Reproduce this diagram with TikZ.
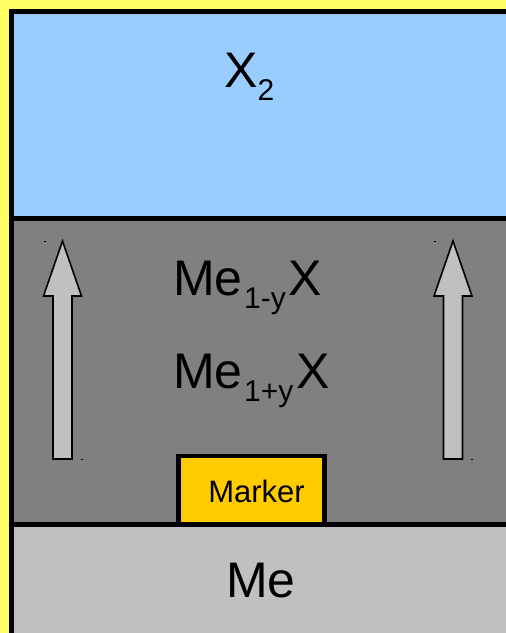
\documentclass[tikz,border=0pt]{standalone}
\usepackage{fontspec}
\setmainfont{Liberation Sans}
\usetikzlibrary{positioning}
\definecolor{frameyellow}{HTML}{FFFF66}
\definecolor{layerblue}{HTML}{99CCFF}
\definecolor{layerdark}{HTML}{808080}
\definecolor{layerlight}{HTML}{C0C0C0}
\definecolor{markergold}{HTML}{FFCC00}
\newcommand{\lowsub}[1]{\raisebox{-13pt}{\fontsize{30}{36}\selectfont #1}}

\begin{document}
\begin{tikzpicture}[x=1pt,y=-1pt,
big/.style={font=\fontsize{50}{60}\selectfont,inner sep=0pt,anchor=base west},
layer/.style={fill=#1},
sep/.style={draw=black,line width=5pt},
flow/.style={fill=layerlight,draw=black,line width=1.6pt,line join=miter},
markerbox/.style={draw=black,fill=markergold,line width=4.5pt,minimum width=146pt,minimum height=68pt,inner sep=0pt}]
\useasboundingbox (0,0) rectangle (506,633);
\clip (0,0) rectangle (506,633);
\fill[frameyellow] (0,0) rectangle (506,633);
% layers
\fill[layer=layerblue] (11.5,11.5) rectangle (508,218);
\fill[layer=layerdark] (11.5,218) rectangle (508,524);
\fill[layer=layerlight] (11.5,524) rectangle (508,660);
% growth arrows
\foreach \ax in {62.5,453}{
 \draw[flow] (\ax,241) -- (\ax+19,296) -- (\ax+9.5,296) -- (\ax+9.5,459) -- (\ax-9.5,459) -- (\ax-9.5,296) -- (\ax-19,296) -- cycle;
 \fill (\ax-19,240.5) rectangle +(2,1.5);
 \fill (\ax+18,458.5) rectangle +(2,1.5);
}
\node[markerbox] (marker) at (251.5,490) {};
\node[font=\fontsize{31}{36}\selectfont,inner sep=0pt,anchor=base] (markertext) at (256.5,502) {Marker};
% frame and interfaces
\draw[sep] (11.5,660) -- (11.5,11.5) -- (508,11.5) -- (508,660);
\draw[sep] (11.5,218) -- (508,218);
\draw[sep] (11.5,524) -- (508,524);
% labels
\node[big] (gas) at (224,87) {X\lowsub{2}};
\node[big] (outer) at (173,295) {Me\kern1.5pt\lowsub{1-y}\kern3pt X};
\node[big] (inner) at (173,388) {Me\kern1.5pt\lowsub{1+y}\kern3pt X};
\node[big] (metal) at (226,597) {Me};
\end{tikzpicture}
\end{document}
